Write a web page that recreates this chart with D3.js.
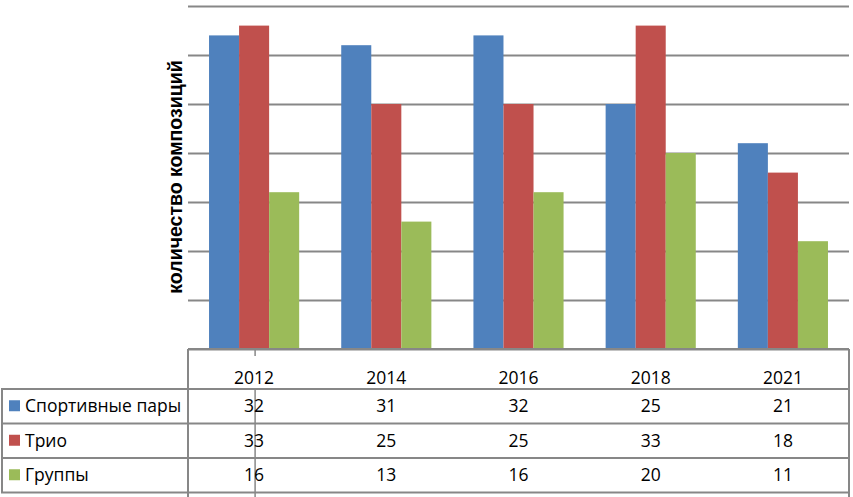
<!DOCTYPE html>
<html><head><meta charset="utf-8">
<script src="https://cdn.jsdelivr.net/npm/d3@7"></script>
<style>body{margin:0;background:#fff}svg{display:block}</style>
</head><body>
<svg id="c" width="853" height="497"></svg>
<script>
const categories = ["2012","2014","2016","2018","2021"];
const seriesNames = ["Спортивные пары","Трио","Группы"];
const sportPairs = [32,31,32,25,21];
const trio = [33,25,25,33,18];
const groups = [16,13,16,20,11];
const seriesValues = [sportPairs, trio, groups];
const colors = ["#4F81BD","#C0504D","#9BBB59"];
const yTicks = [0,5,10,15,20,25,30,35];
const yTitle = "количество композиций";

const svg = d3.select("#c");
const L = 188, R = 849, T = 6, B = 349;
const rowTop = 389, rowH = 34.5;
const gridColor = "#878787";

const x = d3.scaleBand().domain(categories).range([L, R]).paddingInner(0).paddingOuter(0);
const xi = d3.scaleBand().domain(seriesNames).range([0, x.bandwidth()]).paddingOuter(0.7).paddingInner(0);
const y = d3.scaleLinear().domain([0, 35]).range([B, T]);

// gridlines
const gAxis = svg.append("g").attr("transform", `translate(${L},0)`)
  .call(d3.axisLeft(y).tickValues(yTicks).tickSize(-(R - L)).tickFormat(""));
gAxis.select(".domain").remove();
gAxis.selectAll(".tick line").attr("stroke", gridColor).attr("stroke-width", 2);

// bars
seriesValues.forEach((vals, si) => {
  svg.append("g").selectAll("rect").data(vals).join("rect")
    .attr("x", (d, i) => x(categories[i]) + xi(seriesNames[si]))
    .attr("width", xi.bandwidth())
    .attr("y", d => y(d))
    .attr("height", d => y(0) - y(d))
    .attr("fill", colors[si]);
});

// axis title
svg.append("text")
  .attr("transform", `translate(182,177) rotate(-90)`)
  .attr("text-anchor", "middle")
  .attr("font-family", "Liberation Sans, Arial, sans-serif")
  .attr("font-weight", "bold")
  .attr("font-size", 19.5)
  .attr("fill", "#000")
  .text(yTitle);

// table lines
const tl = svg.append("g").attr("stroke", gridColor).attr("stroke-width", 2);
tl.append("line").attr("x1", L).attr("x2", R).attr("y1", B).attr("y2", B);
for (let r = 0; r <= seriesNames.length; r++) {
  const yy = rowTop + r * rowH;
  tl.append("line").attr("x1", 1).attr("x2", R).attr("y1", yy).attr("y2", yy);
}
tl.append("line").attr("x1", L).attr("x2", L).attr("y1", B).attr("y2", 497);
tl.append("line").attr("x1", R).attr("x2", R).attr("y1", B).attr("y2", 497);
tl.append("line").attr("x1", 2).attr("x2", 2).attr("y1", rowTop).attr("y2", rowTop + 3 * rowH);
// stray line at first category
const c0 = x(categories[0]) + x.bandwidth() / 2 + 1;
tl.append("line").attr("x1", c0).attr("x2", c0).attr("y1", B).attr("y2", B + 7).attr("stroke-width", 1.5);
tl.append("line").attr("x1", c0).attr("x2", c0).attr("y1", rowTop).attr("y2", 497).attr("stroke-width", 1.5);

const font = "Open Sans, sans-serif";
const fs = 17.5;
// header years
svg.append("g").selectAll("text").data(categories).join("text")
  .attr("x", d => x(d) + x.bandwidth() / 2)
  .attr("y", 384)
  .attr("text-anchor", "middle")
  .attr("font-family", font).attr("font-size", fs).attr("fill", "#000")
  .text(d => d);

// rows
seriesNames.forEach((name, si) => {
  const cy = rowTop + si * rowH + rowH / 2;
  svg.append("rect").attr("x", 9).attr("y", cy - 6).attr("width", 11).attr("height", 11).attr("fill", colors[si]);
  svg.append("text").attr("x", 25).attr("y", cy + 6)
    .attr("font-family", font).attr("font-size", fs).attr("fill", "#000").text(name);
  svg.append("g").selectAll("text").data(seriesValues[si]).join("text")
    .attr("x", (d, i) => x(categories[i]) + x.bandwidth() / 2)
    .attr("y", cy + 6)
    .attr("text-anchor", "middle")
    .attr("font-family", font).attr("font-size", fs).attr("fill", "#000")
    .text(d => d);
});
</script>
</body></html>
